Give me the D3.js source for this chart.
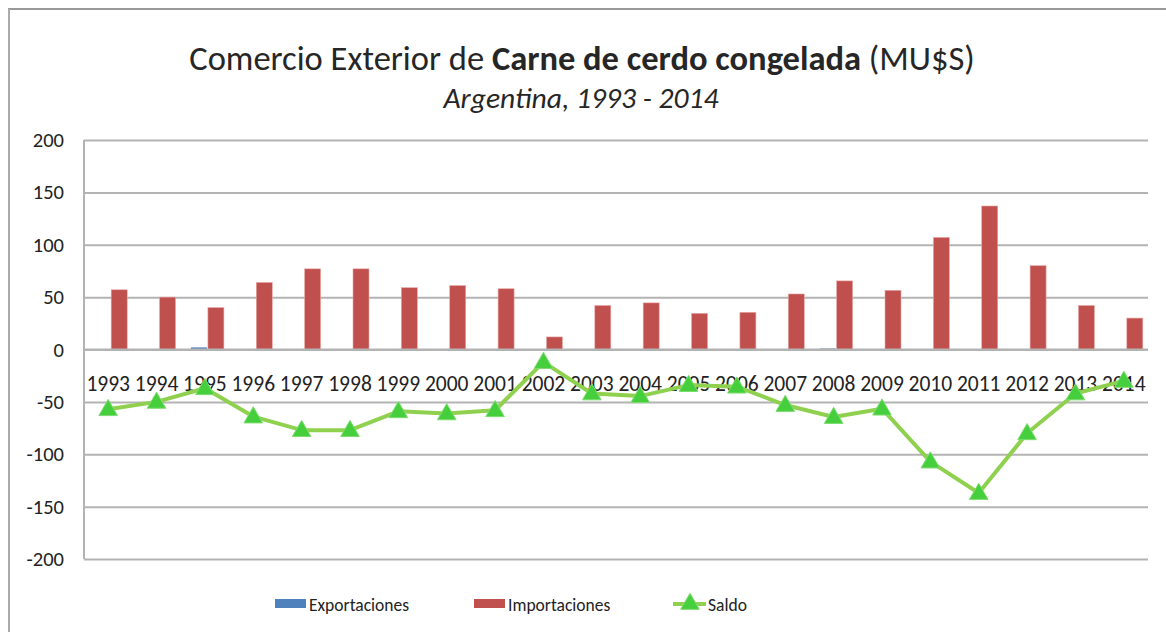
<!DOCTYPE html>
<html>
<head>
<meta charset="utf-8">
<script src="https://cdn.jsdelivr.net/npm/d3@7"></script>
<style>
  body { margin: 0; background: #fff; }
  svg { font-family: Carlito, Lato, "Open Sans", sans-serif; }
</style>
</head>
<body>
<div id="chart"></div>
<script>
// years on the category axis
var years = ["1993","1994","1995","1996","1997","1998","1999","2000","2001","2002","2003",
             "2004","2005","2006","2007","2008","2009","2010","2011","2012","2013","2014"]

// values in MU$S
var exportaciones = [0, 0, 2, 0, 0, 0, 0, 0, 0, 0, 0, 0, 0, 0, 0, 1, 0, 0, 0, 0, 0, 0]
var importaciones = [57, 50, 40, 64, 77, 77, 59, 61, 58, 12, 42, 44.5, 34.5, 35.5, 53, 65.5, 56.5, 107, 137, 80, 42, 30]
var saldo = [-57, -50, -37, -64, -77, -77, -59, -61, -58, -12, -42, -44.5, -34, -35.5, -53, -64.5, -56.5, -107, -137, -80, -42, -30]

var yTicks = [200, 150, 100, 50, 0, -50, -100, -150, -200]

var width = 1166, height = 632
var plot = {left: 84, right: 1148, top: 140, bottom: 559}

var svg = d3.select("#chart").append("svg")
  .attr("width", width)
  .attr("height", height)

// outer frame (top + left edge, like the cropped excel chart)
svg.append("line")
  .attr("x1", 8).attr("x2", width).attr("y1", 9).attr("y2", 9)
  .style("stroke", "#999").style("stroke-width", 2)
svg.append("line")
  .attr("x1", 9).attr("x2", 9).attr("y1", 9).attr("y2", height)
  .style("stroke", "#aaa").style("stroke-width", 2)

// titles
var title = svg.append("text")
  .attr("x", 582).attr("y", 70)
  .attr("text-anchor", "middle")
  .style("font-size", "34.5px")
  .style("fill", "#262626")
title.append("tspan").text("Comercio Exterior de ")
title.append("tspan").style("font-weight", "bold").text("Carne de cerdo congelada")
title.append("tspan").text(" (MU$S)")

svg.append("text")
  .attr("x", 581).attr("y", 108)
  .attr("text-anchor", "middle")
  .style("font-size", "29.6px")
  .style("font-style", "italic")
  .style("fill", "#262626")
  .text("Argentina, 1993 - 2014")

var x = d3.scaleBand()
  .domain(years)
  .range([plot.left, plot.right])

var y = d3.scaleLinear()
  .domain([-200, 200])
  .range([plot.bottom, plot.top])

// gridlines + y labels (plain hyphen for negatives, like the original)
var yAxis = svg.append("g")
  .attr("transform", "translate(" + plot.left + ",0)")
  .call(d3.axisLeft(y)
    .tickValues(yTicks)
    .tickFormat(function(d) { return String(d) })
    .tickSize(-(plot.right - plot.left))
    .tickPadding(20))
yAxis.select(".domain").remove()
yAxis.selectAll(".tick line")
  .style("stroke", "#b3b3b3").style("stroke-width", 2)
yAxis.selectAll(".tick text")
  .style("font-size", "20.5px")
  .style("font-family", "Carlito, Lato, sans-serif")
  .style("fill", "#222")

// vertical axis line
svg.append("line")
  .attr("x1", plot.left).attr("x2", plot.left)
  .attr("y1", plot.top).attr("y2", plot.bottom)
  .style("stroke", "#b3b3b3").style("stroke-width", 2)

var barW = 16

// bars
svg.selectAll(".exp")
  .data(exportaciones)
  .enter().append("rect")
  .attr("class", "exp")
  .attr("x", function(d, i) { return x(years[i]) + x.bandwidth() / 2 - barW + 2 })
  .attr("y", function(d) { return y(Math.max(d, 0)) })
  .attr("width", barW)
  .attr("height", function(d) { return Math.abs(y(d) - y(0)) })
  .style("fill", "#4f81bd")

svg.selectAll(".imp")
  .data(importaciones)
  .enter().append("rect")
  .attr("class", "imp")
  .attr("x", function(d, i) { return x(years[i]) + x.bandwidth() / 2 + 3 })
  .attr("y", function(d) { return y(d) })
  .attr("width", barW)
  .attr("height", function(d) { return y(0) - y(d) })
  .style("fill", "#c0504d")
  .style("stroke", "#e7a8a6")
  .style("stroke-width", 0.6)

// 0 line over bars
svg.append("line")
  .attr("x1", plot.left).attr("x2", plot.right)
  .attr("y1", y(0)).attr("y2", y(0))
  .style("stroke", "#b3b3b3").style("stroke-width", 2)

// category labels (sit below the zero line)
svg.selectAll(".yr")
  .data(years)
  .enter().append("text")
  .attr("class", "yr")
  .attr("x", function(d) { return x(d) + x.bandwidth() / 2 })
  .attr("y", y(0) + 41)
  .attr("text-anchor", "middle")
  .style("font-size", "21.5px")
  .style("fill", "#222")
  .text(function(d) { return d })

// saldo line
var line = d3.line()
  .x(function(d, i) { return x(years[i]) + x.bandwidth() / 2 })
  .y(function(d) { return y(d) })

svg.append("path")
  .datum(saldo)
  .attr("d", line)
  .style("fill", "none")
  .style("stroke", "#8fd14f")
  .style("stroke-width", 4)
  .style("stroke-linejoin", "round")

var tri = d3.symbol().type(d3.symbolTriangle).size(150)

svg.selectAll(".mk")
  .data(saldo)
  .enter().append("path")
  .attr("class", "mk")
  .attr("d", tri)
  .attr("transform", function(d, i) {
    return "translate(" + (x(years[i]) + x.bandwidth() / 2) + "," + (y(d) + 1) + ")"
  })
  .style("fill", "#45cf3d")
  .style("stroke", "#7edb6f")
  .style("stroke-width", 1)

// legend
var legend = svg.append("g")
var ly = 604
var legendFont = "17.5px"

legend.append("rect").attr("x", 275).attr("y", ly - 5).attr("width", 31).attr("height", 9).style("fill", "#4f81bd")
legend.append("text").attr("x", 309).attr("y", ly + 7).style("font-size", legendFont).style("fill", "#222").text("Exportaciones")

legend.append("rect").attr("x", 474).attr("y", ly - 5).attr("width", 31).attr("height", 9).style("fill", "#c0504d")
legend.append("text").attr("x", 508).attr("y", ly + 7).style("font-size", legendFont).style("fill", "#222").text("Importaciones")

legend.append("line").attr("x1", 673).attr("x2", 706).attr("y1", ly).attr("y2", ly)
  .style("stroke", "#8fd14f").style("stroke-width", 4)
legend.append("path").attr("d", tri).attr("transform", "translate(690," + (ly) + ")")
  .style("fill", "#45cf3d").style("stroke", "#7edb6f")
legend.append("text").attr("x", 708).attr("y", ly + 7).style("font-size", legendFont).style("fill", "#222").text("Saldo")
</script>
</body>
</html>
